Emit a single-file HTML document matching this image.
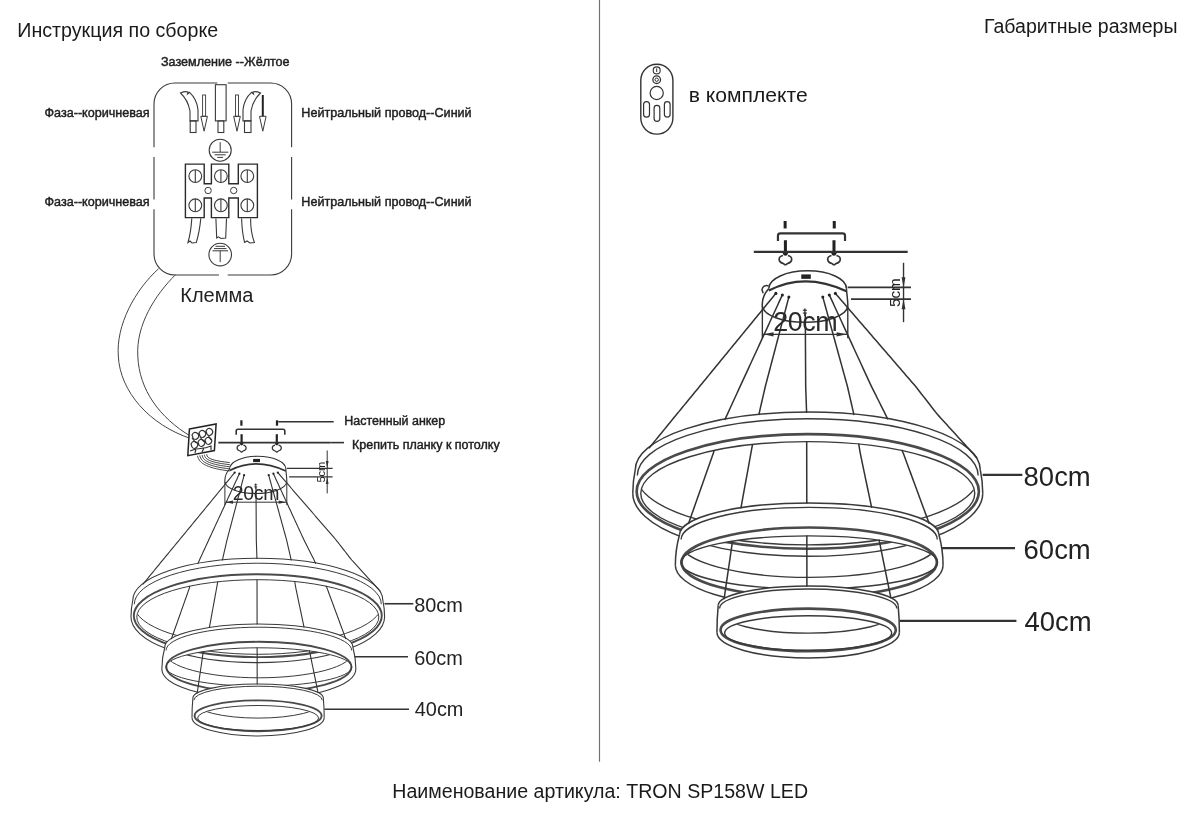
<!DOCTYPE html>
<html><head><meta charset="utf-8"><title>TRON SP158W LED</title>
<style>
html,body{margin:0;padding:0;background:#fff;}
body{width:1200px;height:828px;overflow:hidden;position:relative;}
svg{position:absolute;left:0;top:0;font-family:"Liberation Sans", sans-serif;will-change:transform;}
</style></head>
<body>
<svg width="1200" height="828" viewBox="0 0 1200 828">
<defs><g id="lamp">
<clipPath id="clipI80"><ellipse cx="257.8" cy="617.0" rx="120.4" ry="36.699999999999996"/></clipPath>
<path d="M132.80,600.00 A125.00,41.70 0 0 1 382.80,600.00 L384.60,617.00 A126.80,45.60 0 0 1 131.00,617.00 Z M136.80,617.00 A121.00,37.30 0 0 1 378.80,617.00 A121.00,37.30 0 0 1 136.80,617.00 Z" fill="#fff" fill-rule="evenodd" stroke="none"/>
<path d="M132.80,600.00 A125.00,41.70 0 0 1 382.80,600.00" fill="none" stroke="#3a3a3a" stroke-width="1.1"/>
<path d="M134.30,604.20 A123.50,41.00 0 0 1 381.30,604.20" fill="none" stroke="#3a3a3a" stroke-width="1.0"/>
<path d="M132.80,600.00 Q131.00,608.50 131.00,617.00 M382.80,600.00 Q384.60,608.50 384.60,617.00" fill="none" stroke="#3a3a3a" stroke-width="1.1"/>
<path d="M131.00,617.00 A126.80,45.60 0 0 0 384.60,617.00" fill="none" stroke="#3a3a3a" stroke-width="1.1"/>
<ellipse cx="257.80" cy="615.70" rx="124.00" ry="41.40" fill="none" stroke="#4a4a4a" stroke-width="1.9" />
<ellipse cx="257.80" cy="617.00" rx="121.00" ry="37.30" fill="none" stroke="#3a3a3a" stroke-width="1.0" />
<g clip-path="url(#clipI80)"><path d="M133.80,604.50 A124.00,41.00 0 0 0 381.80,604.50" fill="none" stroke="#3a3a3a" stroke-width="1.0"/></g>
<clipPath id="clipI60"><ellipse cx="258.85" cy="667.0" rx="92.4" ry="18.599999999999998"/></clipPath>
<path d="M164.85,647.00 A94.00,23.00 0 0 1 352.85,647.00 L355.85,669.00 A97.00,30.00 0 0 1 161.85,669.00 Z M165.85,667.00 A93.00,19.20 0 0 1 351.85,667.00 A93.00,19.20 0 0 1 165.85,667.00 Z" fill="#fff" fill-rule="evenodd" stroke="none"/>
<path d="M164.85,647.00 A94.00,23.00 0 0 1 352.85,647.00" fill="none" stroke="#3a3a3a" stroke-width="1.1"/>
<path d="M166.05,650.40 A92.80,23.20 0 0 1 351.65,650.40" fill="none" stroke="#3a3a3a" stroke-width="1.0"/>
<path d="M164.85,647.00 Q161.85,658.00 161.85,669.00 M352.85,647.00 Q355.85,658.00 355.85,669.00" fill="none" stroke="#3a3a3a" stroke-width="1.1"/>
<path d="M161.85,669.00 A97.00,30.00 0 0 0 355.85,669.00" fill="none" stroke="#3a3a3a" stroke-width="1.1"/>
<ellipse cx="258.85" cy="667.00" rx="92.50" ry="25.20" fill="none" stroke="#4a4a4a" stroke-width="1.9" />
<ellipse cx="258.85" cy="667.00" rx="93.00" ry="19.20" fill="none" stroke="#3a3a3a" stroke-width="1.0" />
<g clip-path="url(#clipI60)"><path d="M165.35,652.70 A93.50,25.10 0 0 0 352.35,652.70" fill="none" stroke="#3a3a3a" stroke-width="1.0"/></g>
<clipPath id="clipI40"><ellipse cx="258.1" cy="718.0" rx="59.9" ry="11.9"/></clipPath>
<path d="M192.90,698.00 A65.20,14.00 0 0 1 323.30,698.00 L324.20,717.50 A66.10,18.50 0 0 1 192.00,717.50 Z M197.60,718.00 A60.50,12.50 0 0 1 318.60,718.00 A60.50,12.50 0 0 1 197.60,718.00 Z" fill="#fff" fill-rule="evenodd" stroke="none"/>
<path d="M192.90,698.00 A65.20,14.00 0 0 1 323.30,698.00" fill="none" stroke="#3a3a3a" stroke-width="1.1"/>
<path d="M193.90,700.20 A64.20,14.00 0 0 1 322.30,700.20" fill="none" stroke="#3a3a3a" stroke-width="1.0"/>
<path d="M192.90,698.00 Q192.00,707.75 192.00,717.50 M323.30,698.00 Q324.20,707.75 324.20,717.50" fill="none" stroke="#3a3a3a" stroke-width="1.1"/>
<path d="M192.00,717.50 A66.10,18.50 0 0 0 324.20,717.50" fill="none" stroke="#3a3a3a" stroke-width="1.1"/>
<ellipse cx="258.10" cy="715.80" rx="63.50" ry="15.40" fill="none" stroke="#4a4a4a" stroke-width="1.9" />
<ellipse cx="258.10" cy="718.00" rx="60.50" ry="12.50" fill="none" stroke="#3a3a3a" stroke-width="1.0" />
<g clip-path="url(#clipI40)"><path d="M194.10,702.25 A64.00,15.85 0 0 0 322.10,702.25" fill="none" stroke="#3a3a3a" stroke-width="1.0"/></g>
<path d="M234.70,472.60 L233.43,474.15 L232.15,475.70 L230.88,477.25 L229.61,478.80 L228.33,480.35 L227.06,481.90 L225.79,483.45 L224.51,485.00 L223.24,486.54 L221.96,488.09 L220.69,489.64 L219.42,491.19 L218.14,492.74 L216.87,494.29 L215.60,495.84 L214.32,497.39 L213.05,498.94 L211.78,500.49 L210.50,502.04 L209.23,503.59 L207.96,505.14 L206.68,506.69 L205.41,508.24 L204.13,509.79 L202.86,511.34 L201.59,512.89 L200.31,514.43 L199.04,515.98 L197.77,517.53 L196.49,519.08 L195.22,520.63 L193.95,522.18 L192.67,523.73 L191.40,525.28 L190.13,526.83 L188.85,528.38 L187.58,529.93 L186.30,531.48 L185.03,533.03 L183.76,534.58 L182.48,536.13 L181.21,537.68 L179.94,539.23 L178.65,540.78 L177.36,542.35 L176.06,543.92 L174.77,545.49 L173.48,547.06 L172.18,548.63 L170.89,550.20 L169.59,551.76 L168.30,553.33 L167.01,554.90 L165.71,556.47 L164.42,558.04 L163.12,559.61 L161.84,561.17 L160.57,562.72 L159.30,564.28 L158.02,565.83 L156.75,567.39 L155.47,568.94 L154.20,570.50 L152.93,572.06 L151.65,573.61 L150.38,575.17 L149.10,576.72 L147.83,578.28 L146.56,579.83 L145.28,581.39 L144.01,582.94 L142.73,584.50 L142.73,584.50" fill="none" stroke="#333" stroke-width="1.1"/>
<path d="M239.40,473.70 L238.56,475.52 L237.72,477.33 L236.88,479.15 L236.04,480.97 L235.19,482.78 L234.35,484.60 L233.51,486.42 L232.67,488.23 L231.83,490.05 L230.99,491.86 L230.15,493.68 L229.31,495.50 L228.47,497.31 L227.62,499.13 L226.78,500.95 L225.94,502.76 L225.10,504.58 L224.26,506.40 L223.42,508.21 L222.58,510.03 L221.74,511.85 L220.90,513.66 L220.05,515.48 L219.21,517.29 L218.37,519.11 L217.53,520.93 L216.69,522.74 L215.85,524.56 L215.01,526.38 L214.17,528.19 L213.33,530.01 L212.48,531.83 L211.64,533.64 L210.80,535.46 L209.96,537.28 L209.12,539.09 L208.28,540.91 L207.45,542.73 L206.61,544.55 L205.77,546.36 L204.94,548.18 L204.10,550.00 L203.26,551.82 L202.43,553.64 L201.59,555.45 L200.75,557.27 L199.92,559.09 L199.08,560.91 L198.23,562.73 L197.59,564.09 M189.95,585.91 L189.43,587.87 L188.76,589.77 L188.09,591.67 L187.42,593.57 L186.75,595.47 L186.08,597.37 L185.40,599.27 L184.73,601.17 L184.06,603.07 L183.39,604.97 L182.72,606.87 L182.05,608.77 L181.38,610.66 L180.71,612.56 L180.03,614.46 L179.36,616.36 L178.69,618.26 L178.02,620.16 L177.35,622.06 L176.68,623.96 L176.01,625.86 L175.33,627.76 L174.66,629.66 L173.99,631.55 L173.32,633.45 L172.65,635.35 L171.98,637.25 L171.31,639.15 L171.31,639.15" fill="none" stroke="#333" stroke-width="1.1"/>
<path d="M244.10,475.20 L243.59,477.13 L243.08,479.07 L242.57,481.00 L242.06,482.94 L241.55,484.87 L241.04,486.81 L240.53,488.74 L240.02,490.67 L239.51,492.61 L239.00,494.54 L238.49,496.48 L237.97,498.41 L237.46,500.35 L236.95,502.28 L236.44,504.21 L235.93,506.15 L235.42,508.08 L234.91,510.02 L234.40,511.95 L233.89,513.89 L233.38,515.82 L232.87,517.76 L232.36,519.69 L231.85,521.62 L231.34,523.56 L230.83,525.49 L230.32,527.43 L229.81,529.36 L229.30,531.30 L228.79,533.23 L228.28,535.16 L227.77,537.10 L227.26,539.03 L226.78,540.98 L226.33,542.93 L225.88,544.88 L225.43,546.83 L224.98,548.78 L224.53,550.73 L224.08,552.68 L223.63,554.63 L223.19,556.59 L222.74,558.54 L222.30,560.49 L222.30,560.49 M217.81,581.62 L217.42,583.59 L217.06,585.56 L216.70,587.53 L216.34,589.51 L215.98,591.48 L215.62,593.45 L215.26,595.43 L214.90,597.40 L214.54,599.38 L214.18,601.35 L213.82,603.32 L213.45,605.30 L213.09,607.27 L212.73,609.24 L212.37,611.22 L212.01,613.19 L211.65,615.16 L211.29,617.14 L210.93,619.11 L210.57,621.09 L210.21,623.06 L209.85,625.03 L209.49,627.01 L209.28,627.99 M203.30,651.40 L203.01,653.38 L202.72,655.36 L202.43,657.34 L202.14,659.32 L201.85,661.30 L201.57,663.28 L201.28,665.27 L200.99,667.25 L200.70,669.23 L200.41,671.21 L200.12,673.19 L199.83,675.17 L199.54,677.15 L199.25,679.13 L198.96,681.11 L198.67,683.09 L198.38,685.07 L198.10,687.05 L197.81,689.03 L197.52,691.01 L197.25,693.00 L197.19,693.50" fill="none" stroke="#333" stroke-width="1.1"/>
<path d="M256.00,487.00 L256.01,489.00 L256.02,491.00 L256.03,493.00 L256.05,495.00 L256.06,497.00 L256.07,499.00 L256.08,501.00 L256.09,503.00 L256.10,505.00 L256.11,507.00 L256.12,509.00 L256.14,511.00 L256.15,513.00 L256.16,515.00 L256.17,517.00 L256.18,519.00 L256.19,521.00 L256.20,523.00 L256.22,525.00 L256.23,527.00 L256.24,529.00 L256.25,531.00 L256.26,533.00 L256.27,535.00 L256.28,537.00 L256.29,539.00 L256.34,541.00 L256.41,543.00 L256.48,545.00 L256.55,547.00 L256.62,549.00 L256.69,551.00 L256.75,553.00 L256.82,555.00 L256.89,557.00 L256.96,559.00 L256.96,559.00 M257.03,579.50 L257.03,581.50 L257.03,583.50 L257.04,585.50 L257.04,587.50 L257.04,589.50 L257.05,591.50 L257.05,593.50 L257.05,595.50 L257.05,597.50 L257.06,599.50 L257.06,601.50 L257.06,603.50 L257.06,605.50 L257.07,607.50 L257.07,609.50 L257.07,611.50 L257.08,613.50 L257.08,615.50 L257.08,617.50 L257.08,619.50 L257.09,621.50 L257.09,623.50 L257.09,624.50 M257.12,647.50 L257.13,649.50 L257.13,651.50 L257.13,653.50 L257.14,655.50 L257.14,657.50 L257.14,659.50 L257.14,661.50 L257.15,663.50 L257.15,665.50 L257.15,667.50 L257.16,669.50 L257.16,671.50 L257.16,673.50 L257.16,675.50 L257.17,677.50 L257.17,679.50 L257.17,681.50 L257.18,683.50 L257.18,684.50" fill="none" stroke="#333" stroke-width="1.1"/>
<path d="M268.70,475.20 L269.23,477.13 L269.77,479.07 L270.30,481.00 L270.84,482.94 L271.37,484.87 L271.91,486.81 L272.44,488.74 L272.97,490.67 L273.51,492.61 L274.04,494.54 L274.58,496.48 L275.11,498.41 L275.65,500.35 L276.18,502.28 L276.71,504.21 L277.25,506.15 L277.78,508.08 L278.32,510.02 L278.85,511.95 L279.39,513.89 L279.92,515.82 L280.46,517.76 L280.99,519.69 L281.52,521.62 L282.06,523.56 L282.59,525.49 L283.13,527.43 L283.66,529.36 L284.20,531.30 L284.73,533.23 L285.26,535.16 L285.80,537.10 L286.33,539.03 L286.82,540.98 L287.27,542.93 L287.72,544.88 L288.17,546.83 L288.62,548.78 L289.07,550.73 L289.52,552.68 L289.97,554.63 L290.41,556.59 L290.86,558.54 L291.28,560.50 L291.28,560.50 M294.65,581.00 L294.98,583.00 L295.31,585.00 L295.64,587.00 L296.01,588.99 L296.42,590.96 L296.84,592.94 L297.25,594.91 L297.67,596.89 L298.08,598.86 L298.50,600.84 L298.91,602.81 L299.33,604.78 L299.74,606.76 L300.16,608.73 L300.57,610.71 L300.99,612.68 L301.41,614.66 L301.82,616.63 L302.24,618.61 L302.65,620.58 L303.07,622.56 L303.48,624.53 L303.90,626.51 L304.11,627.49 M309.38,650.42 L309.80,652.39 L310.21,654.37 L310.61,656.35 L311.02,658.33 L311.42,660.31 L311.83,662.29 L312.23,664.27 L312.64,666.26 L313.04,668.24 L313.45,670.22 L313.85,672.20 L314.26,674.18 L314.66,676.16 L315.07,678.14 L315.47,680.12 L315.87,682.10 L316.28,684.08 L316.68,686.06 L317.09,688.04 L317.49,690.02 L317.90,692.00 L318.07,693.00" fill="none" stroke="#333" stroke-width="1.1"/>
<path d="M273.40,473.70 L274.24,475.52 L275.08,477.33 L275.92,479.15 L276.75,480.97 L277.59,482.78 L278.43,484.60 L279.27,486.42 L280.11,488.23 L280.95,490.05 L281.78,491.86 L282.62,493.68 L283.46,495.50 L284.30,497.31 L285.14,499.13 L285.98,500.95 L286.81,502.76 L287.65,504.58 L288.49,506.40 L289.33,508.21 L290.17,510.03 L291.01,511.85 L291.84,513.66 L292.68,515.48 L293.52,517.29 L294.36,519.11 L295.20,520.93 L296.04,522.74 L296.87,524.56 L297.71,526.38 L298.55,528.19 L299.39,530.01 L300.23,531.83 L301.07,533.64 L301.90,535.46 L302.74,537.28 L303.58,539.09 L304.46,540.91 L305.38,542.73 L306.30,544.55 L307.21,546.36 L308.13,548.18 L309.05,550.00 L309.97,551.82 L310.89,553.64 L311.80,555.45 L312.72,557.27 L313.64,559.09 L314.52,560.92 L315.37,562.75 L315.79,563.67 M325.94,585.70 L326.79,587.54 L327.52,589.42 L328.22,591.31 L328.92,593.20 L329.62,595.09 L330.32,596.98 L331.01,598.87 L331.71,600.76 L332.41,602.65 L333.11,604.55 L333.81,606.44 L334.51,608.33 L335.20,610.22 L335.90,612.11 L336.60,614.00 L337.30,615.89 L338.00,617.78 L338.69,619.67 L339.39,621.56 L340.09,623.45 L340.79,625.35 L341.49,627.24 L342.19,629.13 L342.88,631.02 L343.58,632.91 L344.28,634.80 L344.98,636.69 L345.68,638.58 L345.85,639.05" fill="none" stroke="#333" stroke-width="1.1"/>
<path d="M277.80,472.60 L279.11,474.11 L280.42,475.63 L281.73,477.14 L283.04,478.66 L284.35,480.17 L285.66,481.69 L286.97,483.20 L288.28,484.72 L289.59,486.23 L290.90,487.75 L292.21,489.26 L293.52,490.78 L294.83,492.29 L296.14,493.80 L297.45,495.32 L298.76,496.83 L300.07,498.35 L301.38,499.86 L302.69,501.38 L304.00,502.89 L305.31,504.41 L306.62,505.92 L307.93,507.44 L309.24,508.95 L310.55,510.47 L311.86,511.98 L313.17,513.49 L314.48,515.01 L315.79,516.52 L317.10,518.04 L318.41,519.55 L319.72,521.07 L321.03,522.58 L322.34,524.10 L323.65,525.61 L324.96,527.13 L326.27,528.64 L327.58,530.16 L328.89,531.67 L330.20,533.18 L331.51,534.70 L332.82,536.21 L334.13,537.73 L335.44,539.24 L336.72,540.80 L337.97,542.40 L339.22,544.00 L340.47,545.60 L341.72,547.20 L342.96,548.80 L344.21,550.40 L345.46,552.00 L346.71,553.60 L347.96,555.20 L349.20,556.80 L350.45,558.40 L351.70,560.00 L353.06,561.48 L354.41,562.96 L355.77,564.45 L357.12,565.93 L358.48,567.41 L359.83,568.89 L361.19,570.38 L362.54,571.86 L363.90,573.34 L365.25,574.82 L366.61,576.31 L367.96,577.79 L369.32,579.27 L370.67,580.75 L372.03,582.24 L373.38,583.72 L374.74,585.20 L376.10,586.68 L377.45,588.16 L378.81,589.65 L380.16,591.13 L380.50,591.50" fill="none" stroke="#333" stroke-width="1.1"/>
<path d="M229.6,469 A28.1,12.7 0 0 1 285.8,469" fill="none" stroke="#333" stroke-width="1.1"/>
<path d="M229.6,470.5 Q255.7,457 285.8,471" fill="none" stroke="#333" stroke-width="1.6"/>
<path d="M229.6,469 C226,473 224.5,478 224.9,482 A31,12.2 0 0 0 286.8,482 C287,478 286,473 285.8,469" fill="none" stroke="#333" stroke-width="1.1"/>
<rect x="253.1" y="458.9" width="6.9" height="3.2" fill="#222"/>
<circle cx="234.7" cy="472.6" r="1.1" fill="#222"/>
<circle cx="239.4" cy="473.7" r="1.1" fill="#222"/>
<circle cx="244.1" cy="475.2" r="1.1" fill="#222"/>
<circle cx="268.7" cy="475.2" r="1.1" fill="#222"/>
<circle cx="273.4" cy="473.7" r="1.1" fill="#222"/>
<circle cx="277.8" cy="472.6" r="1.1" fill="#222"/>
<line x1="255.70" y1="483.50" x2="255.70" y2="489.00" stroke="#333" stroke-width="1.0" />
<line x1="254.20" y1="484.80" x2="257.20" y2="484.80" stroke="#333" stroke-width="0.8" />
<line x1="254.20" y1="486.80" x2="257.20" y2="486.80" stroke="#333" stroke-width="0.8" />
<line x1="224.90" y1="482.00" x2="224.90" y2="505.00" stroke="#333" stroke-width="1.0" />
<line x1="286.80" y1="482.00" x2="286.80" y2="505.00" stroke="#333" stroke-width="1.0" />
<line x1="225.50" y1="502.20" x2="286.20" y2="502.20" stroke="#333" stroke-width="1.0" />
<path d="M225.5,502.2 L233,500.6 L233,503.8 Z M286.2,502.2 L278.7,500.6 L278.7,503.8 Z" fill="#333"/>
<text x="232.8" y="500.0" font-size="19.5" fill="#2a2a2a" letter-spacing="-0.35">20cm</text>
<line x1="286.70" y1="468.30" x2="332.60" y2="468.30" stroke="#333" stroke-width="1.2" />
<line x1="289.10" y1="476.80" x2="332.60" y2="476.80" stroke="#333" stroke-width="1.2" />
<line x1="327.20" y1="450.50" x2="327.20" y2="493.40" stroke="#333" stroke-width="1.0" />
<path d="M327.2,468.3 L325.8,461 L328.6,461 Z M327.2,476.8 L325.8,484 L328.6,484 Z" fill="#333"/>
<text x="0" y="0" font-size="11" fill="#222" transform="translate(324.6,482.5) rotate(-90)">5cm</text>
<line x1="241.40" y1="420.30" x2="241.40" y2="425.70" stroke="#222" stroke-width="2.2" />
<line x1="277.00" y1="420.30" x2="277.00" y2="425.70" stroke="#222" stroke-width="2.2" />
<path d="M236.2,434.8 L236.2,431 Q236.2,429.3 238,429.3 L283,429.3 Q284.8,429.3 284.8,431 L284.8,434.8" fill="none" stroke="#333" stroke-width="1.6"/>
<line x1="241.60" y1="434.20" x2="241.60" y2="443.80" stroke="#222" stroke-width="2.2" />
<line x1="276.80" y1="434.20" x2="276.80" y2="443.80" stroke="#222" stroke-width="2.2" />
<circle cx="241.6" cy="443.6" r="1.8" fill="#222"/>
<path d="M239.79999999999998,445.2 C236.1,446 236.1,450 240.1,451 L241.6,452.2 M243.4,445.2 C247.1,446 247.1,450 243.1,451 L241.6,452.2" fill="none" stroke="#333" stroke-width="1.2"/>
<circle cx="276.8" cy="443.6" r="1.8" fill="#222"/>
<path d="M275.0,445.2 C271.3,446 271.3,450 275.3,451 L276.8,452.2 M278.6,445.2 C282.3,446 282.3,450 278.3,451 L276.8,452.2" fill="none" stroke="#333" stroke-width="1.2"/>
<line x1="218.70" y1="442.60" x2="330.20" y2="442.60" stroke="#333" stroke-width="1.6" />
<line x1="384.50" y1="603.75" x2="413.30" y2="603.75" stroke="#333" stroke-width="1.6" />
<line x1="354.50" y1="656.70" x2="408.00" y2="656.70" stroke="#333" stroke-width="1.6" />
<line x1="324.50" y1="709.30" x2="409.00" y2="709.30" stroke="#333" stroke-width="1.6" />
<text x="414.2" y="611.8" font-size="19.9" fill="#222" >80cm</text>
<text x="414.2" y="664.7" font-size="19.9" fill="#222" >60cm</text>
<text x="414.8" y="716.3" font-size="19.9" fill="#222" >40cm</text>
</g></defs>
<line x1="599.5" y1="0" x2="599.5" y2="761.8" stroke="#707070" stroke-width="1.15"/>
<text x="17.3" y="37" font-size="19.65" fill="#1a1a1a" >Инструкция по сборке</text>
<text x="984.0" y="33" font-size="19.55" fill="#1a1a1a" >Габаритные размеры</text>
<text x="161" y="65.6" font-size="12.6" fill="#1e1e1e" stroke="#1e1e1e" stroke-width="0.45">Заземление --Жёлтое</text>
<text x="44.5" y="116.5" font-size="12.6" fill="#1e1e1e" stroke="#1e1e1e" stroke-width="0.45">Фаза--коричневая</text>
<text x="44.5" y="205.5" font-size="12.6" fill="#1e1e1e" stroke="#1e1e1e" stroke-width="0.45">Фаза--коричневая</text>
<text x="301.3" y="116.8" font-size="12.6" fill="#1e1e1e" stroke="#1e1e1e" stroke-width="0.45">Нейтральный провод--Синий</text>
<text x="301.3" y="205.5" font-size="12.6" fill="#1e1e1e" stroke="#1e1e1e" stroke-width="0.45">Нейтральный провод--Синий</text>
<text x="180.3" y="301.5" font-size="20" fill="#222" >Клемма</text>
<text x="344.3" y="425" font-size="12.45" fill="#1e1e1e" stroke="#1e1e1e" stroke-width="0.45">Настенный анкер</text>
<text x="352" y="448.7" font-size="12.5" fill="#1e1e1e" stroke="#1e1e1e" stroke-width="0.45">Крепить планку к потолку</text>
<text x="688.8" y="102.2" font-size="21.1" fill="#1a1a1a" >в комплекте</text>
<text x="392.3" y="797.5" font-size="19.6" fill="#1a1a1a" >Наименование артикула: TRON SP158W LED</text>
<path d="M217.3,83 L175,83 A21,21 0 0 0 154,104 L154,147.3 M154,157 L154,199.5 M154,209.3 L154,254 A21,21 0 0 0 175,275 L219,275 M227.7,275 L270.6,275 A21,21 0 0 0 291.6,254 L291.6,209.3 M291.6,199.5 L291.6,157 M291.6,147.3 L291.6,104 A21,21 0 0 0 270.6,83 L227.7,83" fill="none" stroke="#3a3a3a" stroke-width="1.1"/>
<rect x="215.4" y="84.7" width="10.7" height="36.2" fill="none" stroke="#3a3a3a" stroke-width="1.1"/>
<rect x="218" y="120.9" width="5.8" height="11.6" fill="none" stroke="#3a3a3a" stroke-width="1.1"/>
<path d="M180.5,93 Q185,91 188,92 L187.5,94 L189.5,92.3 Q197,99 198,110 L198,120.9 L190,120.9 L190,111 Q188,100 180.5,93 Z" fill="none" stroke="#3a3a3a" stroke-width="1.1"/>
<rect x="190.2" y="120.9" width="5.8" height="11.6" fill="none" stroke="#3a3a3a" stroke-width="1.1"/>
<path d="M260.5,93 Q256,91 253,92 L253.5,94 L251.5,92.3 Q244,99 243,110 L243,120.9 L251,120.9 L251,111 Q253,100 260.5,93 Z" fill="none" stroke="#3a3a3a" stroke-width="1.1"/>
<rect x="244.5" y="120.9" width="6.5" height="11.6" fill="none" stroke="#3a3a3a" stroke-width="1.1"/>
<rect x="202.6" y="95" width="3" height="21.3" fill="none" stroke="#3a3a3a" stroke-width="0.9"/>
<path d="M200.79999999999998,116.3 L207.4,116.3 L204.1,131.2 Z" fill="none" stroke="#3a3a3a" stroke-width="1.0"/>
<rect x="235.5" y="95" width="3" height="21.3" fill="none" stroke="#3a3a3a" stroke-width="0.9"/>
<path d="M233.7,116.3 L240.3,116.3 L237.0,131.2 Z" fill="none" stroke="#3a3a3a" stroke-width="1.0"/>
<line x1="262.80" y1="95.00" x2="262.80" y2="116.30" stroke="#222" stroke-width="2.0" />
<path d="M259.5,116.3 L266.1,116.3 L262.8,131.2 Z" fill="none" stroke="#3a3a3a" stroke-width="1.0"/>
<circle cx="220.2" cy="150.2" r="11" fill="none" stroke="#3a3a3a" stroke-width="1.1"/>
<line x1="220.20" y1="142.20" x2="220.20" y2="152.00" stroke="#3a3a3a" stroke-width="1.0" />
<line x1="212.20" y1="152.20" x2="228.30" y2="152.20" stroke="#3a3a3a" stroke-width="1.0" />
<line x1="214.70" y1="154.80" x2="225.70" y2="154.80" stroke="#3a3a3a" stroke-width="1.0" />
<line x1="217.30" y1="157.40" x2="223.10" y2="157.40" stroke="#3a3a3a" stroke-width="1.0" />
<path d="M185.4,164.1 L204.2,164.1 L204.2,183.7 L211.4,183.7 L211.4,164.1 L228.8,164.1 L228.8,183.7 L238.3,183.7 L238.3,164.1 L257.4,164.1 L257.4,217.6 L238.3,217.6 L238.3,198 L228.8,198 L228.8,217.6 L211.4,217.6 L211.4,198 L204.2,198 L204.2,217.6 L185.4,217.6 Z" fill="none" stroke="#2a2a2a" stroke-width="1.4"/>
<circle cx="195.3" cy="176.1" r="6.4" fill="none" stroke="#3a3a3a" stroke-width="1.1"/>
<line x1="195.30" y1="169.90" x2="195.30" y2="182.30" stroke="#3a3a3a" stroke-width="1.1" />
<circle cx="220.9" cy="176.1" r="6.4" fill="none" stroke="#3a3a3a" stroke-width="1.1"/>
<line x1="220.90" y1="169.90" x2="220.90" y2="182.30" stroke="#3a3a3a" stroke-width="1.1" />
<circle cx="247.3" cy="176.1" r="6.4" fill="none" stroke="#3a3a3a" stroke-width="1.1"/>
<line x1="247.30" y1="169.90" x2="247.30" y2="182.30" stroke="#3a3a3a" stroke-width="1.1" />
<circle cx="195.3" cy="205.3" r="6.4" fill="none" stroke="#3a3a3a" stroke-width="1.1"/>
<line x1="195.30" y1="199.10" x2="195.30" y2="211.50" stroke="#3a3a3a" stroke-width="1.1" />
<circle cx="220.9" cy="205.3" r="6.4" fill="none" stroke="#3a3a3a" stroke-width="1.1"/>
<line x1="220.90" y1="199.10" x2="220.90" y2="211.50" stroke="#3a3a3a" stroke-width="1.1" />
<circle cx="247.3" cy="205.3" r="6.4" fill="none" stroke="#3a3a3a" stroke-width="1.1"/>
<line x1="247.30" y1="199.10" x2="247.30" y2="211.50" stroke="#3a3a3a" stroke-width="1.1" />
<circle cx="208.1" cy="190.5" r="3.2" fill="none" stroke="#3a3a3a" stroke-width="1.0"/>
<circle cx="233.7" cy="190.5" r="3.2" fill="none" stroke="#3a3a3a" stroke-width="1.0"/>
<path d="M191.8,218.4 Q191,232 188,242.5 L190,241 L192,243 L196.3,242.5 Q199.5,232 200.8,218.4" fill="none" stroke="#3a3a3a" stroke-width="1.1"/>
<path d="M215.9,218.4 L216.7,238 L218.5,236.8 L221,238.5 L225.7,238 L226.5,218.4" fill="none" stroke="#3a3a3a" stroke-width="1.1"/>
<path d="M241.6,218.4 Q242,232 244.6,242.5 L247,241 L250,243 L254.4,242.5 Q250.5,232 250.6,218.4" fill="none" stroke="#3a3a3a" stroke-width="1.1"/>
<circle cx="220.2" cy="254.6" r="11.3" fill="none" stroke="#3a3a3a" stroke-width="1.1"/>
<line x1="215.50" y1="246.30" x2="225.00" y2="246.30" stroke="#3a3a3a" stroke-width="1.0" />
<line x1="214.00" y1="248.60" x2="226.50" y2="248.60" stroke="#3a3a3a" stroke-width="1.0" />
<line x1="212.50" y1="250.80" x2="228.00" y2="250.80" stroke="#3a3a3a" stroke-width="1.0" />
<line x1="220.20" y1="250.80" x2="220.20" y2="262.20" stroke="#3a3a3a" stroke-width="1.0" />
<path d="M158.5,268.8 C135,290 116,325 118.3,356 C120,392 150,425 190.6,438.5" fill="none" stroke="#444" stroke-width="1.0"/>
<path d="M175.7,274.5 C155,295 136,325 137.8,356 C139,390 160,418 190.6,436.2" fill="none" stroke="#444" stroke-width="1.0"/>
<path d="M189.4,429.1 L216.1,424 L214.4,450.6 L187.8,455.7 Z" fill="#fff" stroke="#222" stroke-width="1.5"/>
<g fill="none" stroke="#333" stroke-width="1.2"><path d="M192,435 q2,-4 5,-2 q3,2 1,5 q-3,3 -5,0 z M199,433 q2,-4 5,-2 q3,2 1,5 q-3,3 -5,0 z M206,431 q2,-4 5,-2 q3,2 1,5 q-3,3 -5,0 z"/><path d="M191,444 q2,-4 5,-2 q3,2 1,5 q-3,3 -5,0 z M198,442 q2,-4 5,-2 q3,2 1,5 q-3,3 -5,0 z M205,440 q2,-4 5,-2 q3,2 1,5 q-3,3 -5,0 z"/><path d="M190,451 l6,-2 l-1,4 M197,449 l7,-1 l-2,4 M205,448 l6,-2 l0,4 M192,438 l4,5 M200,437 l4,5 M208,435 l3,5"/></g>
<path d="M197.50,455.80 C199.00,464.00 209.00,468.50 229.80,471.00" fill="none" stroke="#333" stroke-width="0.9"/>
<path d="M199.80,455.40 C200.90,462.80 210.60,466.60 229.80,468.90" fill="none" stroke="#333" stroke-width="0.9"/>
<path d="M202.10,455.00 C202.80,461.60 212.20,464.70 229.80,466.80" fill="none" stroke="#333" stroke-width="0.9"/>
<path d="M204.40,454.60 C204.70,460.40 213.80,462.80 229.80,464.70" fill="none" stroke="#333" stroke-width="0.9"/>
<path d="M206.70,454.20 C206.60,459.20 215.40,460.90 229.80,462.60" fill="none" stroke="#333" stroke-width="0.9"/>
<line x1="330.20" y1="442.60" x2="344.00" y2="442.60" stroke="#333" stroke-width="1.6" />
<line x1="218.20" y1="442.60" x2="218.70" y2="442.60" stroke="#333" stroke-width="1.6" />
<line x1="278.30" y1="421.70" x2="333.70" y2="421.70" stroke="#333" stroke-width="1.4" />
<use href="#lamp"/>
<g transform="matrix(1.38,0,0,1.384,452,-360.7)"><use href="#lamp"/><path d="M229.3,467.2 C227,466.5 225,467.5 224.6,470 L225.5,472.5" fill="none" stroke="#333" stroke-width="1.1"/></g>
<rect x="640.8" y="64.2" width="32.1" height="69.9" rx="16" ry="16" fill="none" stroke="#333" stroke-width="1.4"/>
<circle cx="656.7" cy="70.4" r="3.5" fill="none" stroke="#333" stroke-width="1.1"/>
<line x1="656.7" y1="68.3" x2="656.7" y2="72" stroke="#333" stroke-width="1"/>
<circle cx="656.7" cy="79.7" r="3.8" fill="none" stroke="#333" stroke-width="1.3"/>
<circle cx="656.7" cy="79.7" r="1.7" fill="none" stroke="#333" stroke-width="1"/>
<circle cx="656.7" cy="93" r="6.6" fill="none" stroke="#333" stroke-width="1.2"/>
<rect x="643.6" y="101.7" width="5.9" height="15.5" rx="2.9" fill="none" stroke="#333" stroke-width="1.2"/>
<rect x="654.1" y="105.3" width="5.7" height="16" rx="2.85" fill="none" stroke="#333" stroke-width="1.2"/>
<rect x="664.4" y="101.7" width="5.7" height="15.5" rx="2.85" fill="none" stroke="#333" stroke-width="1.2"/>
</svg>
</body></html>
